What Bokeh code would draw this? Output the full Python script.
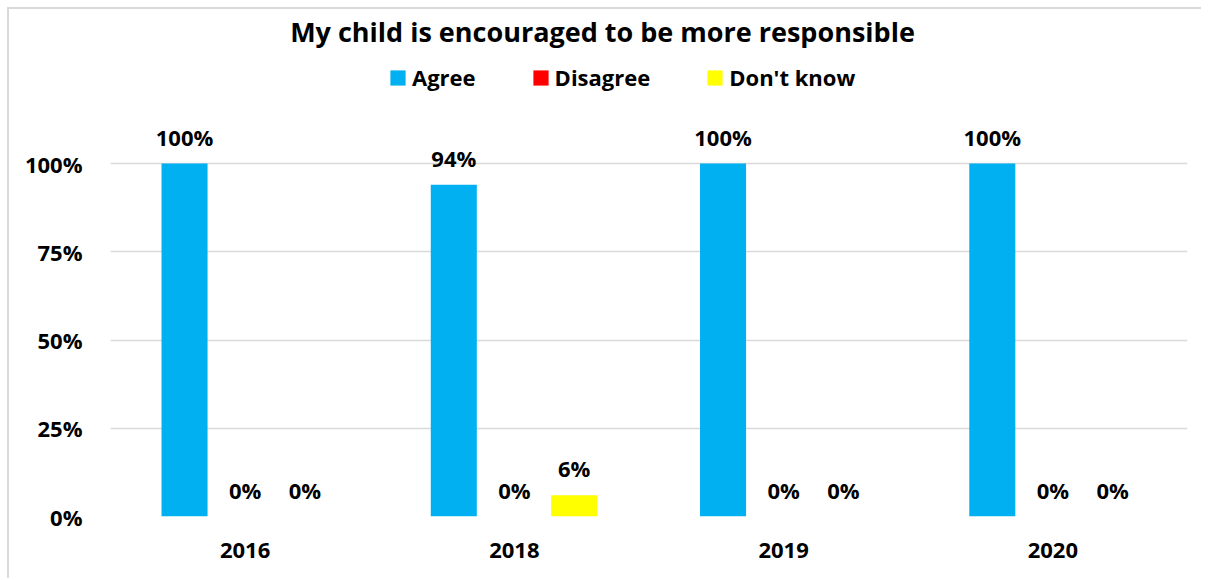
from bokeh.plotting import figure
from bokeh.models import (ColumnDataSource, FactorRange, Range1d, FixedTicker, Label,
                          Legend, LegendItem, NumeralTickFormatter)
from bokeh.transform import dodge
from bokeh.core.properties import value
from bokeh.embed import file_html
from bokeh.resources import INLINE

years = ["2016", "2018", "2019", "2020"]
agree = [1.00, 0.94, 1.00, 1.00]
disagree = [0.00, 0.00, 0.00, 0.00]
dont_know = [0.00, 0.06, 0.00, 0.00]
series_names = ["Agree", "Disagree", "Don't know"]
colors = ["#00B0F0", "#FF0000", "#FFFF00"]
title_text = "My child is encouraged to be more responsible"
y_ticks = [0, 0.25, 0.5, 0.75, 1.0]

FONT = "Open Sans"

def pct(vals):
    return ["%d%%" % round(v * 100) for v in vals]

src = ColumnDataSource(dict(
    year=years, agree=agree, disagree=disagree, dont_know=dont_know,
    agree_lbl=pct(agree), disagree_lbl=pct(disagree), dont_know_lbl=pct(dont_know),
))

W, H = 1194, 571
p = figure(width=W, height=H, x_range=FactorRange(*years), y_range=Range1d(0, 507 / 353),
           output_backend="svg", toolbar_location=None,
           min_border_left=101, min_border_right=16, min_border_top=0, min_border_bottom=64)
p.margin = (7, 0, 0, 7)
p.outline_line_color = None
p.background_fill_color = "white"
p.border_fill_color = "white"
p.styles = {"border-left": "2px solid #D9D9D9", "border-top": "2px solid #D9D9D9",
            "box-sizing": "border-box"}
p.x_range.range_padding = 0.0

offsets = [-0.225, 0.0, 0.222]
bw = 0.171
cols = ["agree", "disagree", "dont_know"]
renderers = []
for c, off, col in zip(cols, offsets, colors):
    r = p.vbar(x=dodge("year", off, range=p.x_range), top=c, width=bw, source=src,
               fill_color=col, line_color=None)
    renderers.append(r)
    p.text(x=dodge("year", off, range=p.x_range), y=c, text=c + "_lbl", source=src,
           text_align="center", text_baseline="alphabetic", y_offset=-27,
           text_font=value(FONT), text_font_size="22px", text_font_style="bold",
           text_color="black")

p.yaxis.ticker = FixedTicker(ticks=y_ticks)
p.yaxis.formatter = NumeralTickFormatter(format="0%")
p.ygrid.ticker = FixedTicker(ticks=y_ticks)
p.ygrid.grid_line_color = "#D9D9D9"
p.ygrid.grid_line_width = 1.5
p.xgrid.grid_line_color = None
for ax in (p.xaxis, p.yaxis):
    ax.axis_line_color = None
    ax.major_tick_line_color = None
    ax.minor_tick_line_color = None
    ax.major_label_text_font = FONT
    ax.major_label_text_font_style = "bold"
    ax.major_label_text_font_size = "22px"
    ax.major_label_text_color = "black"
p.yaxis.major_label_standoff = 22
p.xaxis.major_label_standoff = 20

p.add_layout(Label(x=492, y=485, x_units="screen", y_units="screen", text=title_text,
                   text_align="center", text_baseline="middle", text_font=FONT,
                   text_font_size="27px", text_font_style="bold", text_color="black"))

items = [LegendItem(label=n, renderers=[r]) for n, r in zip(series_names, renderers)]
leg = Legend(items=items, orientation="horizontal", location=(278, 424),
             glyph_width=19, glyph_height=19, label_standoff=5, spacing=55,
             padding=0, margin=0, border_line_color=None, background_fill_alpha=0,
             label_text_font=FONT, label_text_font_style="bold", label_text_font_size="22px",
             label_text_color="black", label_height=20)
p.add_layout(leg, "center")

open("out.html", "w").write(file_html(p, INLINE))
